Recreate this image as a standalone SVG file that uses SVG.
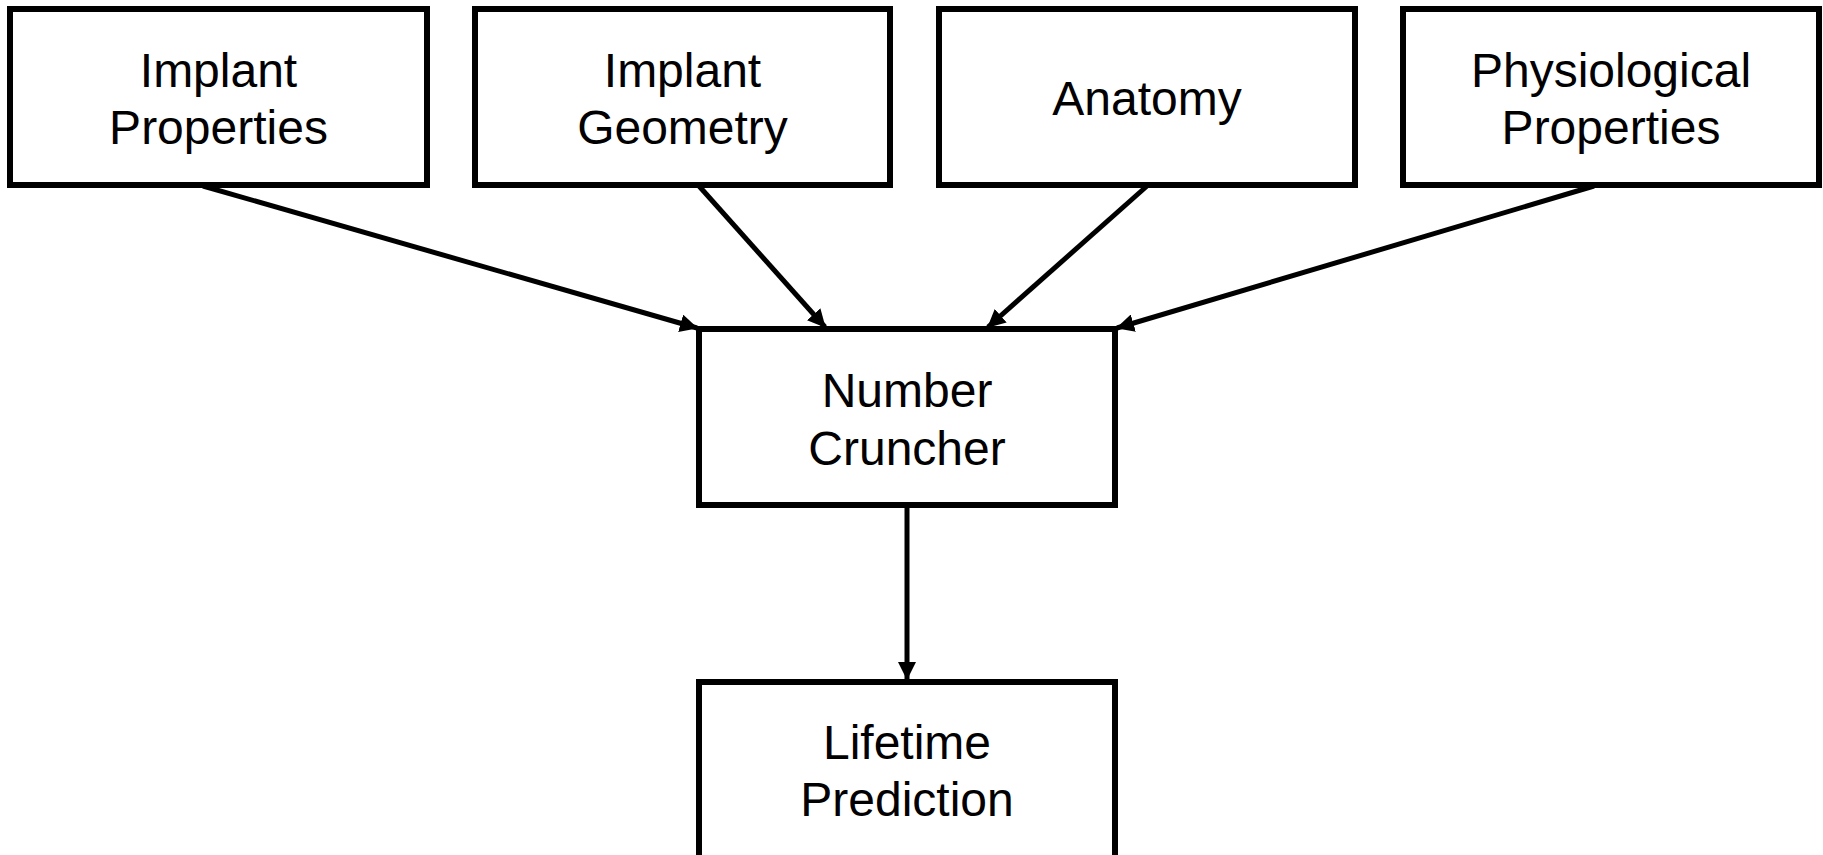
<svg xmlns="http://www.w3.org/2000/svg" width="1823" height="855" viewBox="0 0 1823 855">
<defs>
<style>
.box{fill:#fff;stroke:#000;stroke-width:6}
.lbl{font-family:"Liberation Sans",Arial,sans-serif;font-size:48px;fill:#000;text-anchor:middle}
.edge{stroke:#000;stroke-width:5;fill:none}
</style>
<marker id="ah" markerUnits="userSpaceOnUse" markerWidth="18" markerHeight="18" viewBox="0 0 18 18" refX="17" refY="9" orient="auto">
<path d="M0,0 L18,9 L0,18 Z" fill="#000"/>
</marker>
</defs>
<rect width="1823" height="855" fill="#fff"/>
<g id="connectors">
<line class="edge" x1="203" y1="186" x2="697" y2="328" marker-end="url(#ah)"/>
<line class="edge" x1="699" y1="186" x2="825" y2="327" marker-end="url(#ah)"/>
<line class="edge" x1="1147" y1="186" x2="988" y2="327" marker-end="url(#ah)"/>
<line class="edge" x1="1594" y1="186" x2="1117" y2="328" marker-end="url(#ah)"/>
<line class="edge" x1="907" y1="506" x2="907" y2="679" marker-end="url(#ah)"/>
</g>
<g id="implant-properties">
<rect class="box" x="10" y="9" width="417" height="176"/>
<text class="lbl" x="218.5" y="87">Implant</text>
<text class="lbl" x="218.5" y="144">Properties</text>
</g>
<g id="implant-geometry">
<rect class="box" x="475" y="9" width="415" height="176"/>
<text class="lbl" x="682.5" y="87">Implant</text>
<text class="lbl" x="682.5" y="144">Geometry</text>
</g>
<g id="anatomy">
<rect class="box" x="939" y="9" width="416" height="176"/>
<text class="lbl" x="1147" y="115">Anatomy</text>
</g>
<g id="physiological-properties">
<rect class="box" x="1403" y="9" width="416" height="176"/>
<text class="lbl" x="1611" y="87">Physiological</text>
<text class="lbl" x="1611" y="144">Properties</text>
</g>
<g id="number-cruncher">
<rect class="box" x="699" y="329" width="416" height="176"/>
<text class="lbl" x="907" y="407">Number</text>
<text class="lbl" x="907" y="465">Cruncher</text>
</g>
<g id="lifetime-prediction">
<rect class="box" x="699" y="682" width="416" height="176"/>
<text class="lbl" x="907" y="759">Lifetime</text>
<text class="lbl" x="907" y="816">Prediction</text>
</g>
</svg>
